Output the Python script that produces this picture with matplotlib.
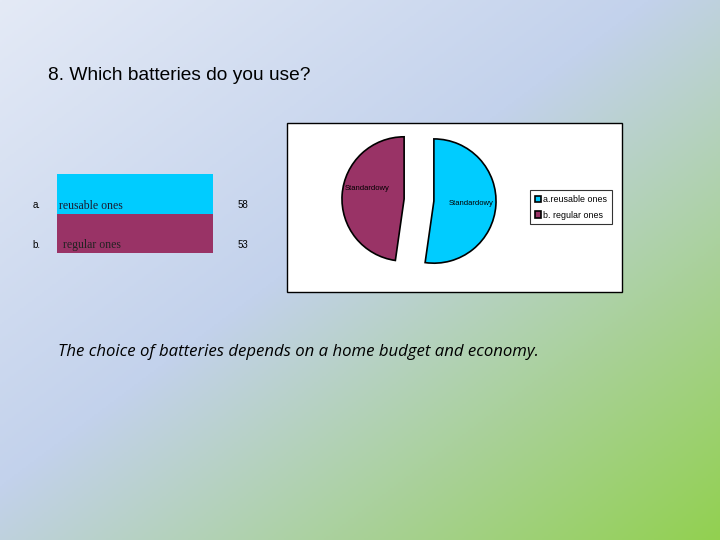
import matplotlib
matplotlib.use("Agg")
import matplotlib.pyplot as plt
from matplotlib.patches import Rectangle
import numpy as np

# Survey data
letters = ["a.", "b."]
answers = ["reusable ones", "regular ones"]
counts = [58, 53]
legend_labels = ["a.reusable ones", "b. regular ones"]
slice_labels = ["Standardowy", "Standardowy"]
colors = ["#00ccff", "#993366"]

fig = plt.figure(figsize=(7.2, 5.4), dpi=100)

# Slide background: diagonal gradient, pale blue -> blue -> green
bg = fig.add_axes([0, 0, 1, 1], zorder=-10)
gx, gy = np.meshgrid(np.linspace(0, 1, 360), np.linspace(0, 1, 270))
t = (gx + gy) / 2
stops = np.array([0.0, 0.45, 1.0])
cols = np.array([[228, 234, 246], [195, 210, 236], [146, 208, 80]]) / 255
img = np.dstack([np.interp(t, stops, cols[:, k]) for k in range(3)])
bg.imshow(img, aspect="auto", extent=[0, 1, 1, 0])
bg.set_axis_off()

# Title and conclusion
fig.text(48 / 720, 1 - 75 / 540, "8. Which batteries do you use?",
         fontsize=13.8, family="Liberation Sans", va="center", ha="left")
fig.text(58 / 720, 1 - 352 / 540,
         "The choice of batteries depends on a home budget and economy.",
         fontsize=12.1, family="Open Sans", style="italic",
         va="center", ha="left")

# Coloured answer table on the left
tab = fig.add_axes([57 / 720, 1 - 253 / 540, 156 / 720, 79 / 540])
rows = np.arange(len(answers))
tab.barh(rows, 1, height=1, left=0, color=colors)
tab.set_xlim(0, 1)
tab.set_ylim(1.5, -0.5)
tab.set_axis_off()
for i in rows:
    tab.text(-0.155, i + 0.42, letters[i], fontsize=7, va="bottom",
             ha="left", family="Liberation Sans", clip_on=False)
    tab.text(0.01 + 0.03 * i, i + 0.46, answers[i], fontsize=8.5,
             va="bottom", ha="left", family="Liberation Serif",
             color="#1a1a2e" if i == 0 else "#222222")
    tab.text(1.155, i + 0.42, str(counts[i]), fontsize=7, va="bottom",
             ha="left", family="Liberation Sans", clip_on=False)

# White frame around the pie chart
fig.patches.append(Rectangle((287 / 720, 1 - 292 / 540), 335 / 720, 169 / 540,
                             transform=fig.transFigure, facecolor="white",
                             edgecolor="black", linewidth=1, zorder=0))

# Exploded pie
pie_ax = fig.add_axes([332 / 720, 1 - 287 / 540, 174 / 720, 174 / 540],
                      zorder=2)
wedges, texts = pie_ax.pie(counts, colors=colors, startangle=90,
                           counterclock=False, explode=[0.24, 0.24],
                           labels=slice_labels, labeldistance=0.6,
                           wedgeprops=dict(edgecolor="black", linewidth=1.2),
                           textprops=dict(fontsize=5.5, family="Liberation Sans"))
for tx in texts:
    tx.set_ha("center")
texts[1].set_y(texts[1].get_position()[1] + 0.12)
pie_ax.set_xlim(-1.4, 1.4)
pie_ax.set_ylim(-1.4, 1.4)
pie_ax.set_aspect("equal")
pie_ax.set_axis_off()

leg = fig.legend(wedges, legend_labels, loc="upper left",
                 bbox_to_anchor=(530 / 720, 1 - 190 / 540),
                 borderaxespad=0, frameon=True, fancybox=False,
                 edgecolor="black", handlelength=0.7, handleheight=0.7,
                 handletextpad=0.25, borderpad=0.55, labelspacing=0.75,
                 prop=dict(family="Liberation Sans", size=6.4))
leg.get_frame().set_linewidth(0.8)
leg.set_zorder(3)

fig.savefig("out.png", dpi=100)
